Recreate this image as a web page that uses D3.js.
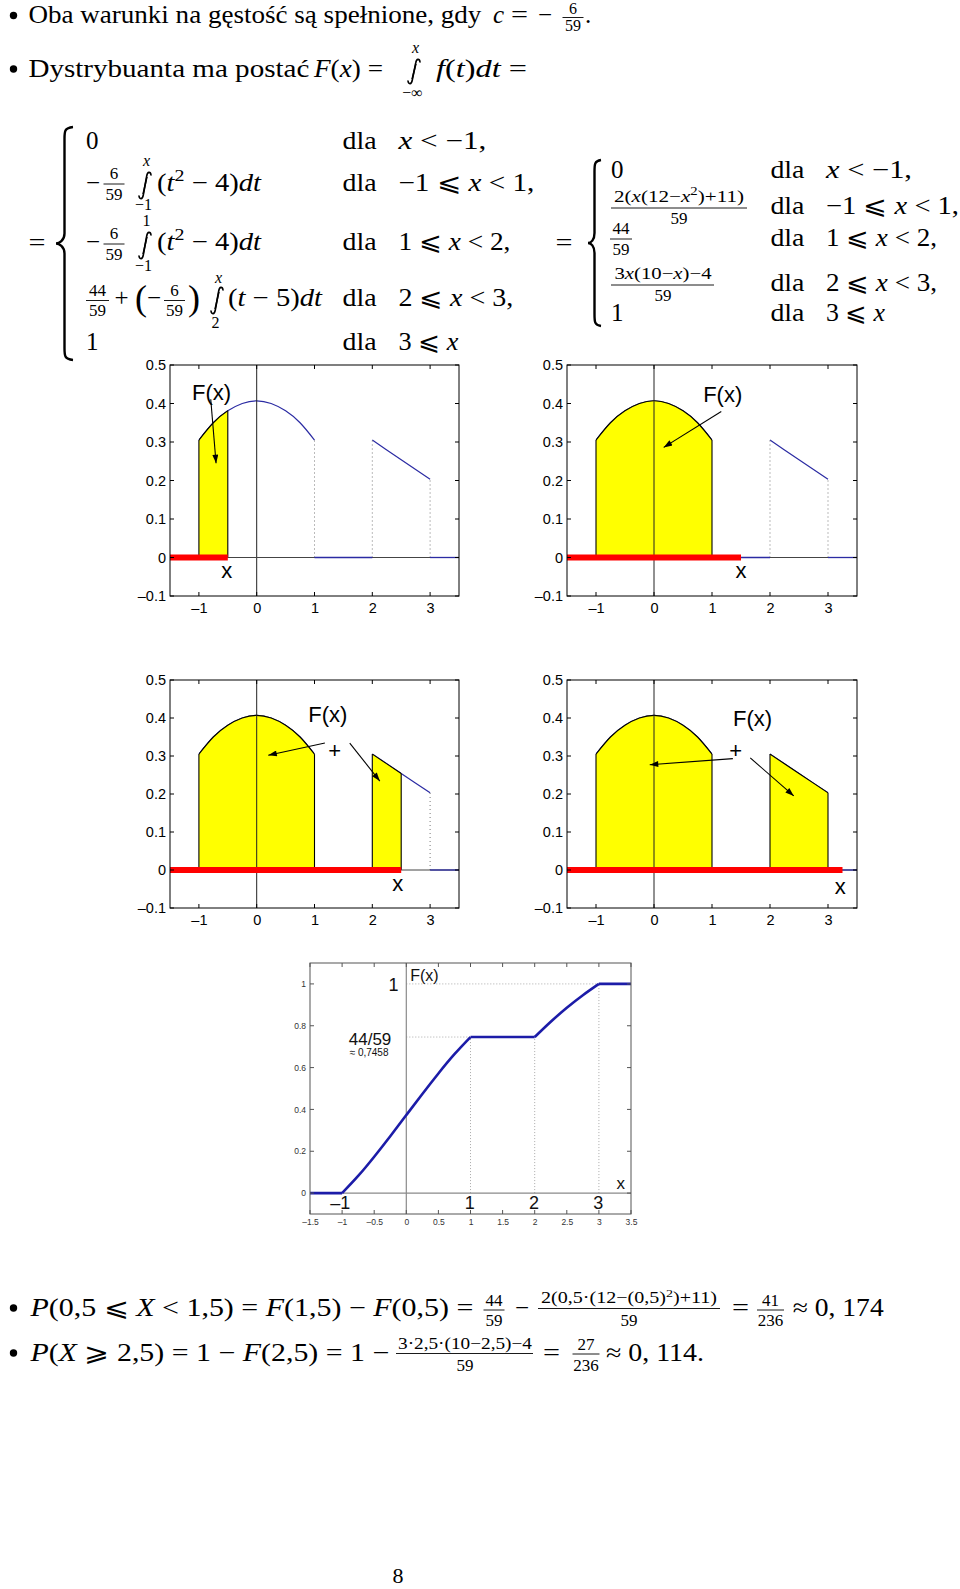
<!DOCTYPE html>
<html><head><meta charset="utf-8">
<script src="https://cdn.jsdelivr.net/npm/d3@7"></script>
<style>body{margin:0;background:#fff}svg{display:block}text{white-space:pre}</style>
</head><body>
<svg id="page" width="960" height="1589"></svg>
<script>
// ---------- data ----------
const densX1 = [-1, -0.75, -0.5, -0.25, 0, 0.25, 0.5, 0.75, 1];
const densY1 = [0.305, 0.350, 0.381, 0.400, 0.407, 0.400, 0.381, 0.350, 0.305];
const densX2 = [2, 2.5, 3];
const densY2 = [0.305, 0.254, 0.203];
const zeroSegs = [[-1.5, -1], [1, 2], [3, 3.5]];
const bounds = [1, 2, 3];
const boundTops = [0.305, 0.305, 0.203];
const panelX = [-0.5, 1.5, 2.5, 3.25];
const panelYTicks = [-0.1, 0, 0.1, 0.2, 0.3, 0.4, 0.5];
const panelYLabels = ["–0.1", "0", "0.1", "0.2", "0.3", "0.4", "0.5"];
const panelXTicks = [-1, 0, 1, 2, 3];
const panelXLabels = ["–1", "0", "1", "2", "3"];

const cdfSegX = [[-1.5, -1], [-1, -0.75, -0.5, -0.25, 0, 0.25, 0.5, 0.75, 1], [1, 2], [2, 2.25, 2.5, 2.75, 3], [3, 3.5]];
const cdfSegY = [[0, 0], [0, 0.082, 0.174, 0.272, 0.373, 0.474, 0.572, 0.664, 0.746], [0.746, 0.746], [0.746, 0.819, 0.886, 0.946, 1], [1, 1]];
const cdfGuideX = [1, 2, 3];
const cdfGuideTop = [0.746, 0.746, 1];
const cdfGuideH = [[0.746, 0, 1], [1, 0, 3]];
const cdfYTicks = [0, 0.2, 0.4, 0.6, 0.8, 1];
const cdfYLabels = ["0", "0.2", "0.4", "0.6", "0.8", "1"];
const cdfXTicks = [-1.5, -1, -0.5, 0, 0.5, 1, 1.5, 2, 2.5, 3, 3.5];
const cdfXLabels = ["–1.5", "–1", "–0.5", "0", "0.5", "1", "1.5", "2", "2.5", "3", "3.5"];
const cdfBigX = [-1, 1, 2, 3];
const cdfBigLabels = ["–1", "1", "2", "3"];

// annotations (data units)
const panelAnnot = [
  {fx: [-0.78, 0.409], xl: [-0.52, -0.054], arrows: [[[-0.795, 0.411], [-0.703, 0.245]]]},
  {fx: [1.185, 0.405], xl: [1.5, -0.054], arrows: [[[1.16, 0.379], [0.167, 0.286]]]},
  {fx: [1.23, 0.389], plus: [1.35, 0.317], xl: [2.44, -0.056], arrows: [[[1.18, 0.334], [0.2, 0.302]], [[1.61, 0.334], [2.13, 0.234]]]},
  {fx: [1.70, 0.380], plus: [1.41, 0.317], xl: [3.21, -0.063], arrows: [[[1.36, 0.293], [-0.074, 0.277]], [[1.66, 0.295], [2.41, 0.195]]]}
];

// ---------- layout ----------
const SERIF = "'Liberation Serif','DejaVu Serif',serif";
const SANS = "'Liberation Sans',Arial,sans-serif";
const BASE = 25, SMALL = 17;
const svg = d3.select("#page");
svg.append("rect").attr("width", 960).attr("height", 1589).attr("fill", "#fff");
const defs = svg.append("defs");
defs.append("marker").attr("id", "ah").attr("viewBox", "0 0 10 7").attr("refX", 10).attr("refY", 3.5)
  .attr("markerWidth", 11).attr("markerHeight", 6).attr("markerUnits", "userSpaceOnUse").attr("orient", "auto")
  .append("path").attr("d", "M0,0 L10,3.5 L0,7 z").attr("fill", "#000");

function T(x, y, parts, o = {}) {
  const size = o.size || BASE;
  const t = svg.append("text").attr("x", x).attr("y", y)
    .attr("font-family", o.family || SERIF).attr("font-size", size)
    .attr("text-anchor", o.anchor || "start").attr("fill", o.fill || "#000");
  if (typeof parts === "string") parts = [[parts, 0]];
  let shift = 0;
  parts.forEach(([s, it, sup]) => {
    const sp = t.append("tspan").attr("font-style", it ? "italic" : "normal").text(s);
    if (sup) { sp.attr("dy", -size * 0.4 - shift).attr("font-size", size * 0.7); shift = -size * 0.4; }
    else if (shift) { sp.attr("dy", -shift); shift = 0; }
  });
  if (o.len) t.attr("textLength", o.len).attr("lengthAdjust", "spacingAndGlyphs");
  return t;
}
const EQ = (x, y) => T(x, y, "=", {len: 17});
const DLA = (x, y) => T(x, y, "dla", {len: 34});
function frac(cx, nb, ly, db, num, den, w, size = SMALL) {
  T(cx, nb, num, {size, anchor: "middle"});
  T(cx, db, den, {size, anchor: "middle"});
  svg.append("line").attr("x1", cx - w / 2).attr("x2", cx + w / 2).attr("y1", ly).attr("y2", ly)
    .attr("stroke", "#000").attr("stroke-width", 0.9);
}
// integral sign drawn as a glyph-like path, limits as text
function integ(cx, yt, yb, up, ub, low, lb) {
  svg.append("path").attr("fill", "none").attr("stroke", "#000").attr("stroke-width", 1.6).attr("stroke-linecap", "round")
    .attr("d", `M${cx + 6},${yt + 3} C${cx + 5.5},${yt - 0.5} ${cx + 2.5},${yt - 0.8} ${cx + 1.7},${yt + 4} L${cx - 1.7},${yb - 4} C${cx - 2.5},${yb + 0.8} ${cx - 5.5},${yb + 0.5} ${cx - 6},${yb - 3}`);
  svg.append("path").attr("fill", "#000")
    .attr("d", `M${cx + 1.1},${yt + 5} L${cx + 2.7},${yt + 5} L${cx - 1.1},${yb - 5} L${cx - 2.7},${yb - 5} Z`);
  T(cx + 1.5, ub, up, {size: 16, anchor: "middle"});
  T(cx - 1.5, lb, low, {size: 16, anchor: "middle"});
}
function brace(xl, xr, y0, y1) {
  const xm = (xl + xr) / 2, ym = (y0 + y1) / 2;
  svg.append("path").attr("fill", "none").attr("stroke", "#000").attr("stroke-width", 2.4)
    .attr("d", `M${xr},${y0} C${xm},${y0 + 1} ${xm},${y0 + 4} ${xm},${y0 + 12} L${xm},${ym - 10} C${xm},${ym - 3} ${xl + 3},${ym} ${xl},${ym} C${xl + 3},${ym} ${xm},${ym + 3} ${xm},${ym + 10} L${xm},${y1 - 12} C${xm},${y1 - 4} ${xm},${y1 - 1} ${xr},${y1}`);
}
function bullet(x, y) { svg.append("circle").attr("cx", x).attr("cy", y).attr("r", 3.7).attr("fill", "#000"); }

// ---------- text: top ----------
bullet(13.5, 15.5);
T(28.4, 22.5, "Oba warunki na gęstość są spełnione, gdy", {len: 453});
T(493, 22.5, [["c", 1]]);
EQ(511, 22.5);
T(538, 22.5, "−");
frac(573, 13.5, 17.5, 31, "6", "59", 21, 16);
T(585, 22.5, ".");

bullet(13.5, 69);
T(28.4, 77, "Dystrybuanta ma postać", {len: 281});
T(314, 77, [["F", 1], ["(", 0], ["x", 1], [") =", 0]], {len: 69});
integ(414, 59, 84, [["x", 1]], 53, "−∞", 98);
T(436, 77, [["f", 1], ["(", 0], ["t", 1], [")", 0], ["dt", 1], [" =", 0]], {len: 91});

// section 1
EQ(28.4, 251);
brace(56, 73, 127, 360);
const dla1 = 342.6, cond1 = 398.4;
T(86, 149, "0");
DLA(dla1, 149); T(cond1, 149, [["x", 1], [" < −1,", 0]], {len: 88});

T(86, 190.6, "−");
frac(114, 179, 184, 200, "6", "59", 21);
integ(145, 172, 199, [["x", 1]], 166, "−1", 210);
T(157, 190.6, [["(", 0], ["t", 1], ["2", 0, 1], [" − 4)", 0], ["dt", 1]], {len: 104});
DLA(dla1, 190.6); T(cond1, 190.6, [["−1 ⩽ ", 0], ["x", 1], [" < 1,", 0]], {len: 136});

T(86, 250.4, "−");
frac(114, 239, 244, 260, "6", "59", 21);
integ(145, 232, 259, "1", 226, "−1", 271);
T(157, 250.4, [["(", 0], ["t", 1], ["2", 0, 1], [" − 4)", 0], ["dt", 1]], {len: 104});
DLA(dla1, 250.4); T(cond1, 250.4, [["1 ⩽ ", 0], ["x", 1], [" < 2,", 0]], {len: 112});

frac(97.5, 296, 300.5, 316, "44", "59", 23);
T(114.5, 306, "+");
T(135, 310, "(", {size: 36});
T(147, 306, "−");
frac(174.5, 296, 300.5, 316, "6", "59", 21);
T(188, 310, ")", {size: 36});
integ(217, 287, 314, [["x", 1]], 283, "2", 328);
T(228, 306, [["(", 0], ["t", 1], [" − 5)", 0], ["dt", 1]], {len: 94});
DLA(dla1, 306); T(cond1, 306, [["2 ⩽ ", 0], ["x", 1], [" < 3,", 0]], {len: 115});

T(86, 349.7, "1");
DLA(dla1, 349.7); T(cond1, 349.7, [["3 ⩽ ", 0], ["x", 1]], {len: 60});

// section 2
EQ(555.5, 251);
brace(588, 601, 160, 326);
const dla2 = 770.4, cond2 = 826;
T(611, 178, "0");
DLA(dla2, 178); T(cond2, 178, [["x", 1], [" < −1,", 0]], {len: 86});
T(679, 202, [["2(", 0], ["x", 1], ["(12−", 0], ["x", 1], ["2", 0, 1], [")+11)", 0]], {size: SMALL, anchor: "middle", len: 130});
T(679, 224, "59", {size: SMALL, anchor: "middle"});
svg.append("line").attr("x1", 611).attr("x2", 747).attr("y1", 208).attr("y2", 208).attr("stroke", "#000").attr("stroke-width", 0.9);
DLA(dla2, 214); T(cond2, 214, [["−1 ⩽ ", 0], ["x", 1], [" < 1,", 0]], {len: 133});
frac(621, 234, 239, 255, "44", "59", 22);
DLA(dla2, 246); T(cond2, 246, [["1 ⩽ ", 0], ["x", 1], [" < 2,", 0]], {len: 111});
T(663, 279, [["3", 0], ["x", 1], ["(10−", 0], ["x", 1], [")−4", 0]], {size: SMALL, anchor: "middle", len: 97});
T(663, 300.5, "59", {size: SMALL, anchor: "middle"});
svg.append("line").attr("x1", 611).attr("x2", 714).attr("y1", 285).attr("y2", 285).attr("stroke", "#000").attr("stroke-width", 0.9);
DLA(dla2, 291); T(cond2, 291, [["2 ⩽ ", 0], ["x", 1], [" < 3,", 0]], {len: 111});
T(611, 321, "1");
DLA(dla2, 321); T(cond2, 321, [["3 ⩽ ", 0], ["x", 1]], {len: 59});

// ---------- density panels ----------
const frames = [
  {x0: 170, x1: 459, y0: 365, y1: 596},
  {x0: 567, x1: 857, y0: 365, y1: 596},
  {x0: 170, x1: 459, y0: 680, y1: 908},
  {x0: 567, x1: 857, y0: 680, y1: 908}
];
const seg1 = densX1.map((v, i) => [v, densY1[i]]);
const seg2 = densX2.map((v, i) => [v, densY2[i]]);
function valAt(seg, xv) {
  for (let i = 0; i < seg.length - 1; i++) {
    if (xv >= seg[i][0] && xv <= seg[i + 1][0]) {
      const t = (xv - seg[i][0]) / (seg[i + 1][0] - seg[i][0]);
      return seg[i][1] + t * (seg[i + 1][1] - seg[i][1]);
    }
  }
  return 0;
}

frames.forEach((f, idx) => {
  const xpos = panelX[idx], an = panelAnnot[idx];
  const x = d3.scaleLinear().domain([-1.5, 3.5]).range([f.x0, f.x1]);
  const y = d3.scaleLinear().domain([-0.1, 0.5]).range([f.y1, f.y0]);
  const g = svg.append("g");
  const line = d3.line().x(d => x(d[0])).y(d => y(d[1])).curve(d3.curveNatural);
  const area = d3.area().x(d => x(d[0])).y0(y(0)).y1(d => y(d[1])).curve(d3.curveNatural);
  [seg1, seg2].forEach(s => g.append("path").attr("d", line(s)).attr("fill", "none").attr("stroke", "#2b2ba3").attr("stroke-width", 1.2));
  bounds.forEach((b, i) => {
    if (b > xpos) g.append("line").attr("x1", x(b)).attr("x2", x(b)).attr("y1", y(0)).attr("y2", y(boundTops[i]))
      .attr("stroke", "#777").attr("stroke-width", 1).attr("stroke-dasharray", "1,3");
  });
  [[seg1, -1, 1], [seg2, 2, 3]].forEach(([s, a, bmax], k) => {
    if (xpos <= a) return;
    const b = Math.min(xpos, bmax);
    const cid = `clip${idx}_${k}`;
    defs.append("clipPath").attr("id", cid).append("rect").attr("x", x(a)).attr("width", x(b) - x(a)).attr("y", f.y0).attr("height", f.y1 - f.y0);
    g.append("path").attr("d", area(s)).attr("fill", "#ffff00").attr("clip-path", `url(#${cid})`);
    g.append("path").attr("d", line(s)).attr("fill", "none").attr("stroke", "#000").attr("stroke-width", 1.1).attr("clip-path", `url(#${cid})`);
    [a, b].forEach(e => g.append("line").attr("x1", x(e)).attr("x2", x(e)).attr("y1", y(0)).attr("y2", y(valAt(s, e)))
      .attr("stroke", "#000").attr("stroke-width", 1.1));
  });
  g.append("line").attr("x1", x(0)).attr("x2", x(0)).attr("y1", f.y0).attr("y2", f.y1).attr("stroke", "#222").attr("stroke-width", 1);
  g.append("line").attr("x1", f.x0).attr("x2", f.x1).attr("y1", y(0)).attr("y2", y(0)).attr("stroke", "#444").attr("stroke-width", 1);
  zeroSegs.forEach(z => g.append("line").attr("x1", x(z[0])).attr("x2", x(z[1])).attr("y1", y(0)).attr("y2", y(0)).attr("stroke", "#2b2ba3").attr("stroke-width", 1.3));
  g.append("line").attr("x1", x(-1.5)).attr("x2", x(xpos)).attr("y1", y(0)).attr("y2", y(0)).attr("stroke", "#ff0000").attr("stroke-width", 6);
  g.append("rect").attr("x", f.x0).attr("y", f.y0).attr("width", f.x1 - f.x0).attr("height", f.y1 - f.y0).attr("fill", "none").attr("stroke", "#000").attr("stroke-width", 1);
  panelYTicks.forEach(t => {
    g.append("line").attr("x1", f.x0).attr("x2", f.x0 + 4).attr("y1", y(t)).attr("y2", y(t)).attr("stroke", "#000");
    g.append("line").attr("x1", f.x1).attr("x2", f.x1 - 4).attr("y1", y(t)).attr("y2", y(t)).attr("stroke", "#000");
  });
  panelXTicks.forEach(t => {
    g.append("line").attr("x1", x(t)).attr("x2", x(t)).attr("y1", f.y1).attr("y2", f.y1 - 4).attr("stroke", "#000");
    g.append("line").attr("x1", x(t)).attr("x2", x(t)).attr("y1", f.y0).attr("y2", f.y0 + 4).attr("stroke", "#000");
  });
  const ya = g.append("g").attr("transform", `translate(${f.x0 - 4},0)`)
    .call(d3.axisLeft(y).tickValues(panelYTicks).tickSize(0).tickFormat((d, i) => panelYLabels[i]));
  ya.select(".domain").remove();
  ya.selectAll("text").attr("font-family", SANS).attr("font-size", 14.5).attr("fill", "#000").attr("x", 0);
  const xa = g.append("g").attr("transform", `translate(0,${f.y1 + 4})`)
    .call(d3.axisBottom(x).tickValues(panelXTicks).tickSize(0).tickFormat((d, i) => panelXLabels[i]));
  xa.select(".domain").remove();
  xa.selectAll("text").attr("font-family", SANS).attr("font-size", 14.5).attr("fill", "#000");
  g.append("text").attr("x", x(an.fx[0])).attr("y", y(an.fx[1])).attr("text-anchor", "middle")
    .attr("font-family", SANS).attr("font-size", 22).text("F(x)");
  g.append("text").attr("x", x(an.xl[0])).attr("y", y(an.xl[1])).attr("text-anchor", "middle")
    .attr("font-family", SANS).attr("font-size", 22).text("x");
  if (an.plus) g.append("text").attr("x", x(an.plus[0])).attr("y", y(an.plus[1]) + 8).attr("text-anchor", "middle")
    .attr("font-family", SANS).attr("font-size", 22).text("+");
  an.arrows.forEach(([p, q]) => g.append("line").attr("x1", x(p[0])).attr("y1", y(p[1])).attr("x2", x(q[0])).attr("y2", y(q[1]))
    .attr("stroke", "#000").attr("stroke-width", 1.1).attr("marker-end", "url(#ah)"));
});

// ---------- CDF panel ----------
(function () {
  const f = {x0: 310, x1: 631, y0: 963, y1: 1214};
  const x = d3.scaleLinear().domain([-1.5, 3.5]).range([f.x0, f.x1]);
  const y = d3.scaleLinear().domain([-0.1, 1.1]).range([f.y1, f.y0]);
  const g = svg.append("g");
  g.append("rect").attr("x", f.x0).attr("y", f.y0).attr("width", f.x1 - f.x0).attr("height", f.y1 - f.y0).attr("fill", "#fff");
  cdfGuideX.forEach((gx, i) => g.append("line").attr("x1", x(gx)).attr("x2", x(gx)).attr("y1", y(0)).attr("y2", y(cdfGuideTop[i]))
    .attr("stroke", "#aaa").attr("stroke-width", 1).attr("stroke-dasharray", "1,2"));
  cdfGuideH.forEach(([gy, a, b]) => g.append("line").attr("x1", x(a)).attr("x2", x(b)).attr("y1", y(gy)).attr("y2", y(gy))
    .attr("stroke", "#aaa").attr("stroke-width", 1).attr("stroke-dasharray", "1,2"));
  g.append("line").attr("x1", x(0)).attr("x2", x(0)).attr("y1", f.y0).attr("y2", f.y1).attr("stroke", "#8a8a8a").attr("stroke-width", 1.2);
  g.append("line").attr("x1", f.x0).attr("x2", f.x1).attr("y1", y(0)).attr("y2", y(0)).attr("stroke", "#8a8a8a").attr("stroke-width", 1.2);
  const line = d3.line().x(d => x(d[0])).y(d => y(d[1])).curve(d3.curveNatural);
  cdfSegX.forEach((sx, i) => g.append("path").attr("d", line(sx.map((v, j) => [v, cdfSegY[i][j]])))
    .attr("fill", "none").attr("stroke", "#1c1ca8").attr("stroke-width", 2.6));
  g.append("rect").attr("x", f.x0).attr("y", f.y0).attr("width", f.x1 - f.x0).attr("height", f.y1 - f.y0).attr("fill", "none").attr("stroke", "#555").attr("stroke-width", 1);
  cdfYTicks.forEach(t => {
    g.append("line").attr("x1", f.x0).attr("x2", f.x0 + 4).attr("y1", y(t)).attr("y2", y(t)).attr("stroke", "#555");
    g.append("line").attr("x1", f.x1).attr("x2", f.x1 - 4).attr("y1", y(t)).attr("y2", y(t)).attr("stroke", "#555");
  });
  cdfXTicks.forEach(t => {
    g.append("line").attr("x1", x(t)).attr("x2", x(t)).attr("y1", f.y1).attr("y2", f.y1 - 4).attr("stroke", "#555");
    g.append("line").attr("x1", x(t)).attr("x2", x(t)).attr("y1", f.y0).attr("y2", f.y0 + 4).attr("stroke", "#555");
  });
  const ya = g.append("g").attr("transform", `translate(${f.x0 - 4},0)`)
    .call(d3.axisLeft(y).tickValues(cdfYTicks).tickSize(0).tickFormat((d, i) => cdfYLabels[i]));
  ya.select(".domain").remove();
  ya.selectAll("text").attr("font-family", SANS).attr("font-size", 8.5).attr("fill", "#333").attr("x", 0);
  const xa = g.append("g").attr("transform", `translate(0,${f.y1 + 2})`)
    .call(d3.axisBottom(x).tickValues(cdfXTicks).tickSize(0).tickFormat((d, i) => cdfXLabels[i]));
  xa.select(".domain").remove();
  xa.selectAll("text").attr("font-family", SANS).attr("font-size", 8.5).attr("fill", "#333");
  const lab = (xv, yv, s, size, anchor = "middle") => g.append("text").attr("x", x(xv)).attr("y", y(yv))
    .attr("text-anchor", anchor).attr("font-family", SANS).attr("font-size", size).attr("fill", "#111").text(s);
  cdfBigX.forEach((v, i) => lab(v + (i === 0 ? -0.03 : -0.01), -0.075, cdfBigLabels[i], 18));
  lab(-0.2, 0.967, "1", 18);
  lab(0.06, 1.014, "F(x)", 16, "start");
  lab(-0.565, 0.706, "44/59", 17);
  lab(-0.58, 0.654, "≈ 0,7458", 10);
  lab(3.34, 0.018, "x", 17);
})();

// ---------- bottom text ----------
bullet(13.5, 1308);
T(30.4, 1315.5, [["P", 1], ["(0,5 ⩽ ", 0], ["X", 1], [" < 1,5) = ", 0], ["F", 1], ["(1,5) − ", 0], ["F", 1], ["(0,5) =", 0]], {len: 443});
frac(494, 1306, 1310, 1326, "44", "59", 21);
T(515, 1315.5, "−");
T(629, 1303, [["2(0,5·(12−(0,5)", 0], ["2", 0, 1], [")+11)", 0]], {size: 16, anchor: "middle", len: 176});
T(629, 1326, "59", {size: SMALL, anchor: "middle"});
svg.append("line").attr("x1", 538).attr("x2", 720).attr("y1", 1308.5).attr("y2", 1308.5).attr("stroke", "#000").attr("stroke-width", 0.9);
EQ(732, 1315.5);
frac(770.5, 1306, 1310, 1326, "41", "236", 27);
T(792.7, 1315.5, "≈ 0, 174", {len: 91});

bullet(13.5, 1353);
T(30.4, 1360.5, [["P", 1], ["(", 0], ["X", 1], [" ⩾ 2,5) = 1 − ", 0], ["F", 1], ["(2,5) = 1 −", 0]], {len: 359});
T(465, 1349, "3·2,5·(10−2,5)−4", {size: 16, anchor: "middle", len: 134});
T(465, 1371, "59", {size: SMALL, anchor: "middle"});
svg.append("line").attr("x1", 396).attr("x2", 533).attr("y1", 1353.5).attr("y2", 1353.5).attr("stroke", "#000").attr("stroke-width", 0.9);
EQ(543, 1360.5);
frac(586, 1350, 1354, 1371, "27", "236", 27);
T(606, 1360.5, "≈ 0, 114.", {len: 98});

T(398, 1583, "8", {size: 22, anchor: "middle"});
</script>
</body></html>
